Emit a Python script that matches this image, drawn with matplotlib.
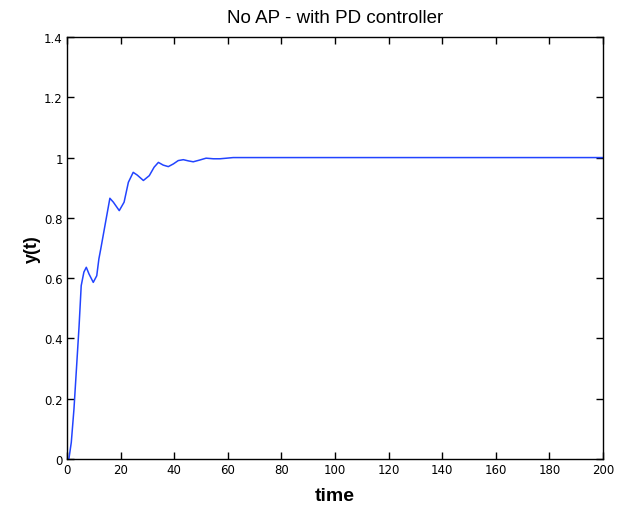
import numpy as np
import matplotlib
matplotlib.use("Agg")
import matplotlib.pyplot as plt

# step response
t = [0, 0.7, 1.6, 2.6, 3.6, 4.5, 5.3, 6.3, 7.2, 8.2, 9.8, 11.1, 11.9, 12.6,
     14.6, 16, 17.3, 19.5, 21.3, 22.9, 24.7, 26.2, 28.5, 30.7, 32.5, 34.1,
     35.9, 37.8, 39.7, 41.5, 43.4, 45.3, 47.1, 49.6, 51.9, 54.6, 57.1, 59.6,
     62, 100, 200]
y = [0, 0, 0.055, 0.166, 0.31, 0.44, 0.575, 0.62, 0.636, 0.614, 0.586, 0.608,
     0.664, 0.697, 0.796, 0.865, 0.852, 0.824, 0.852, 0.918, 0.951, 0.942,
     0.924, 0.94, 0.968, 0.984, 0.975, 0.97, 0.979, 0.99, 0.993, 0.989, 0.986,
     0.992, 0.998, 0.996, 0.996, 0.998, 1.0, 1.0, 1.0]

xticks = [0, 20, 40, 60, 80, 100, 120, 140, 160, 180, 200]
yticks = [0, 0.2, 0.4, 0.6, 0.8, 1, 1.2, 1.4]
yticklabels = ["0", "0.2", "0.4", "0.6", "0.8", "1", "1.2", "1.4"]

fig = plt.figure(figsize=(6.21, 5.06), dpi=100)
ax = fig.add_axes([67 / 621, 46 / 506, 536 / 621, 422 / 506])

ax.plot(t, y, color="#2244ff", lw=1.1)

ax.set_xlim(0, 200)
ax.set_ylim(0, 1.4)
ax.set_xticks(xticks)
ax.set_yticks(yticks)
ax.set_yticklabels(yticklabels)
ax.tick_params(direction="in", top=True, right=True, length=5, width=1,
               labelsize=8.5, pad=3)
for lab in ax.get_xticklabels() + ax.get_yticklabels():
    lab.set_family(["Liberation Sans Narrow", "DejaVu Sans"])
for s in ax.spines.values():
    s.set_linewidth(1.0)

ax.set_title("No AP - with PD controller", fontsize=13.5, family="Liberation Sans", pad=11)
ax.set_xlabel("time", fontsize=14, fontweight="bold", family="Liberation Sans", labelpad=8)
ax.set_ylabel("y(t)", fontsize=13, fontweight="bold", family="Liberation Sans", labelpad=2)

fig.savefig("out.png", dpi=100)
